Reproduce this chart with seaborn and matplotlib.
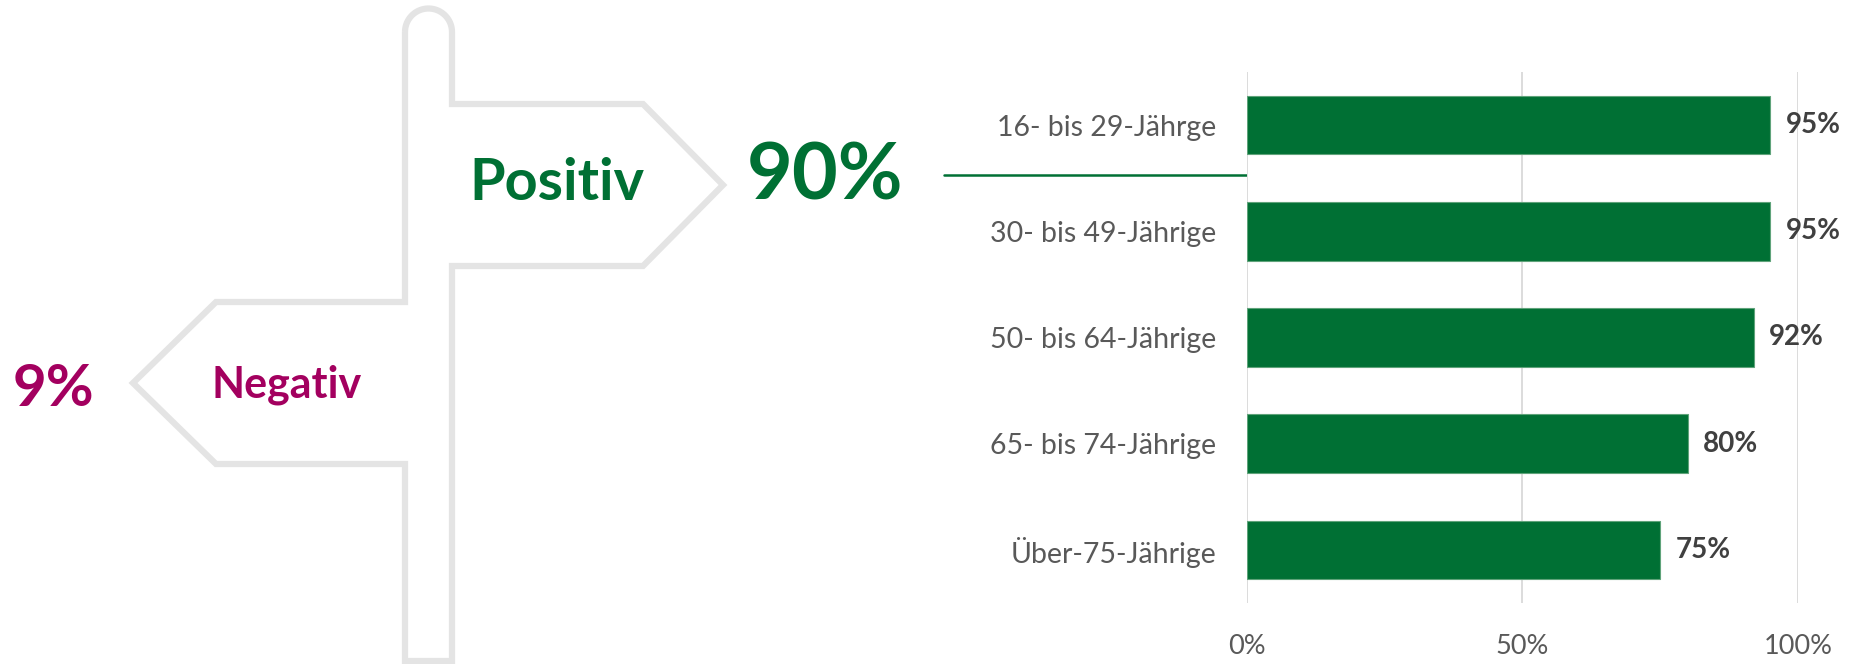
import numpy as np
import pandas as pd
import seaborn as sns
import matplotlib.pyplot as plt

# data
groups = ['16- bis 29-Jährge', '30- bis 49-Jährige', '50- bis 64-Jährige',
          '65- bis 74-Jährige', 'Über-75-Jährige']
positive_share = [95, 95, 92, 80, 75]
overall_positive = 90
overall_negative = 9
xticks = [0, 50, 100]

GREEN = '#007034'
MAGENTA = '#a3005f'
POST = '#e4e4e4'

sns.set_style('white')
plt.rcParams['font.family'] = ['Lato', 'DejaVu Sans']

fig = plt.figure(figsize=(18.58, 6.64), dpi=100)

# signpost drawing in pixel space
bg = fig.add_axes([0, 0, 1, 1])
bg.set_xlim(0, 1858)
bg.set_ylim(664, 0)
bg.axis('off')

t = np.linspace(np.pi, 0, 40)
arc_x = 428.5 + 23.5 * np.cos(t)
arc_y = 32 - 23.5 * np.sin(t)
outline_x = [405, 405, 216, 133, 216, 405, 405, 452, 452, 643, 723, 643, 452, 452]
outline_y = [32, 302, 302, 383, 464, 464, 661, 661, 266, 266, 185, 104, 104, 32]
px = np.concatenate([outline_x, arc_x[::-1]])
py = np.concatenate([outline_y, arc_y[::-1]])
bg.plot(px, py, color=POST, lw=4.5, solid_joinstyle='miter', solid_capstyle='butt')

bg.text(557, 184, 'Positiv', color=GREEN, fontsize=41.5, fontweight='bold',
        ha='center', va='center')
bg.text(287, 385, 'Negativ', color=MAGENTA, fontsize=31, fontweight='bold',
        ha='center', va='center')
bg.text(825, 178, f'{overall_positive}%', color=GREEN, fontsize=57, fontweight='bold',
        ha='center', va='center')
bg.text(53, 389, f'{overall_negative}%', color=MAGENTA, fontsize=42, fontweight='bold',
        ha='center', va='center')
bg.plot([944, 1247], [175, 175], color=GREEN, lw=1.8)

# bar chart
ax = fig.add_axes([1247 / 1858, 1 - 603 / 664, 551 / 1858, 531 / 664])
df = pd.DataFrame({'group': groups, 'share': positive_share})
sns.barplot(data=df, x='share', y='group', orient='h', color=GREEN,
            saturation=1, width=0.55, edgecolor='#5fa37a', linewidth=0.8, ax=ax)
ax.set_xlim(0, 100)
ax.set_ylim(4.5, -0.5)
ax.set_xticks(xticks)
ax.set_xticklabels([f'{v}%' for v in xticks])
ax.grid(axis='x', color='#d9d9d9', lw=1.3)
ax.set_axisbelow(True)
sns.despine(ax=ax, left=True, bottom=True)
ax.tick_params(axis='x', length=0, pad=22, labelsize=19.5, labelcolor='#595959')
ax.tick_params(axis='y', length=0, pad=22, labelsize=20.5, labelcolor='#595959')
ax.set_xlabel('')
ax.set_ylabel('')

for i, v in enumerate(positive_share):
    ax.annotate(f'{v}%', (v, i), xytext=(11, 0), textcoords='offset points',
                ha='left', va='center', fontsize=20, fontweight='bold', color='#404040')

fig.savefig('out.png', dpi=100)
